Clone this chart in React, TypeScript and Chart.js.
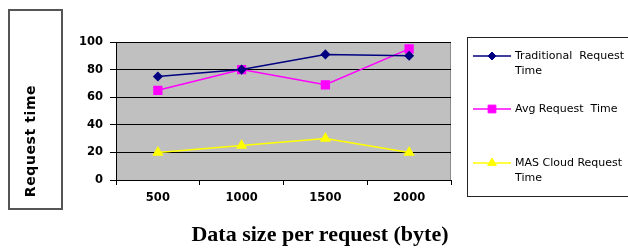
import React, { useEffect, useRef } from "react";
import { Chart, registerables } from "chart.js";
import { drawPoint } from "chart.js/helpers";

Chart.register(...registerables);

const categories = ["500", "1000", "1500", "2000"];
const traditional = [75, 80, 91, 90];
const avgRequest = [65, 80, 69, 95];
const masCloud = [20, 25, 30, 20];
const seriesNames = [["Traditional  Request", "Time"], ["Avg Request  Time"], ["MAS Cloud Request", "Time"]];
const yTitle = "Request time";
const xTitle = "Data size per request (byte)";

const legendRows = [56, 109, 163];

const plotBg = {
  id: "plotBg",
  beforeDraw(chart: any) {
    const { ctx, chartArea: a } = chart;
    ctx.save();
    ctx.fillStyle = "#c0c0c0";
    ctx.fillRect(a.left, a.top, a.right - a.left, a.bottom - a.top);
    ctx.strokeStyle = "#8c8c8c";
    ctx.lineWidth = 1;
    ctx.strokeRect(a.left + 0.5, a.top + 0.5, a.right - a.left - 1, a.bottom - a.top);
    ctx.restore();
  },
};

const customLegend = {
  id: "customLegend",
  afterDraw(chart: any) {
    const { ctx } = chart;
    ctx.save();
    chart.data.datasets.forEach((ds: any, i: number) => {
      const y = legendRows[i];
      ctx.strokeStyle = ds.borderColor;
      ctx.lineWidth = ds.borderWidth;
      ctx.beginPath();
      ctx.moveTo(473, y);
      ctx.lineTo(511, y);
      ctx.stroke();
      ctx.fillStyle = ds.pointBackgroundColor;
      ctx.strokeStyle = ds.pointBorderColor;
      ctx.lineWidth = 1;
      drawPoint(ctx, { pointStyle: ds.pointStyle, radius: ds.pointRadius, rotation: 0, borderWidth: 1 }, 492, y);
      ctx.fillStyle = "#000";
      ctx.font = "11px 'DejaVu Sans'";
      ctx.textBaseline = "middle";
      ctx.textAlign = "left";
      seriesNames[i].forEach((line, j) => {
        ctx.fillText(line, 515, y + j * 15);
      });
    });
    ctx.restore();
  },
};

export default function App() {
  const ref = useRef<HTMLCanvasElement>(null);
  useEffect(() => {
    if (!ref.current) return;
    const tickFont = { family: "'DejaVu Sans'", size: 11.5, weight: "bold" as const };
    const chart = new Chart(ref.current, {
      type: "line",
      data: {
        labels: categories,
        datasets: [
          {
            label: seriesNames[0].join(" "),
            data: traditional,
            borderColor: "#000080",
            backgroundColor: "#000080",
            pointBackgroundColor: "#000080",
            pointBorderColor: "#000080",
            pointStyle: "rectRot",
            pointRadius: 4,
            borderWidth: 1.5,
          },
          {
            label: seriesNames[1].join(" "),
            data: avgRequest,
            borderColor: "#ff00ff",
            backgroundColor: "#ff00ff",
            pointBackgroundColor: "#ff00ff",
            pointBorderColor: "#ff00ff",
            pointStyle: "rect",
            pointRadius: 5.5,
            borderWidth: 1.5,
          },
          {
            label: seriesNames[2].join(" "),
            data: masCloud,
            borderColor: "#ffff00",
            backgroundColor: "#ffff00",
            pointBackgroundColor: "#ffff00",
            pointBorderColor: "#ffff00",
            pointStyle: "triangle",
            pointRadius: 5,
            borderWidth: 1.5,
          },
        ],
      },
      options: {
        animation: false,
        responsive: false,
        devicePixelRatio: 1,
        layout: { padding: { left: 0, top: 42, right: 177, bottom: 0 } },
        plugins: { legend: { display: false }, tooltip: { enabled: false } },
        scales: {
          x: {
            offset: true,
            afterFit: (s: any) => { s.height = 68; },
            grid: { offset: true, drawOnChartArea: false, drawTicks: true, tickLength: 5, color: "#000" },
            border: { color: "#000", width: 1 },
            ticks: { color: "#000", font: tickFont, padding: 6, maxRotation: 0 },
          },
          y: {
            min: 0,
            max: 100,
            afterFit: (s: any) => { s.width = 116; },
            grid: { color: "#000", tickLength: 6, lineWidth: 1 },
            border: { color: "#000", width: 1 },
            ticks: { stepSize: 20, color: "#000", font: tickFont, padding: 7 },
          },
        },
      },
      plugins: [plotBg, customLegend],
    });
    return () => chart.destroy();
  }, []);

  return (
    <div style={{ position: "fixed", left: 0, top: 0, width: 628, height: 248, background: "#fff", overflow: "hidden" }}>
      <canvas ref={ref} width={628} height={248} style={{ position: "absolute", left: 0, top: 0 }} />
      <div
        style={{
          position: "absolute",
          left: 8,
          top: 9,
          width: 55,
          height: 201,
          boxSizing: "border-box",
          border: "2px solid #555",
        }}
      />
      <div
        style={{
          position: "absolute",
          left: 30,
          top: 141,
          transform: "translate(-50%, -50%) rotate(-90deg)",
          whiteSpace: "nowrap",
          fontFamily: "'DejaVu Sans'",
          fontWeight: "bold",
          fontSize: 14,
          letterSpacing: 0.6,
          color: "#000",
        }}
      >
        {yTitle}
      </div>
      <div
        style={{
          position: "absolute",
          left: 467,
          top: 37,
          width: 200,
          height: 160,
          boxSizing: "border-box",
          border: "1px solid #222",
        }}
      />
      <div
        style={{
          position: "absolute",
          left: 320,
          top: 234,
          transform: "translate(-50%, -50%)",
          whiteSpace: "nowrap",
          fontFamily: "'Liberation Serif'",
          fontWeight: "bold",
          fontSize: 22,
          color: "#000",
        }}
      >
        {xTitle}
      </div>
    </div>
  );
}
